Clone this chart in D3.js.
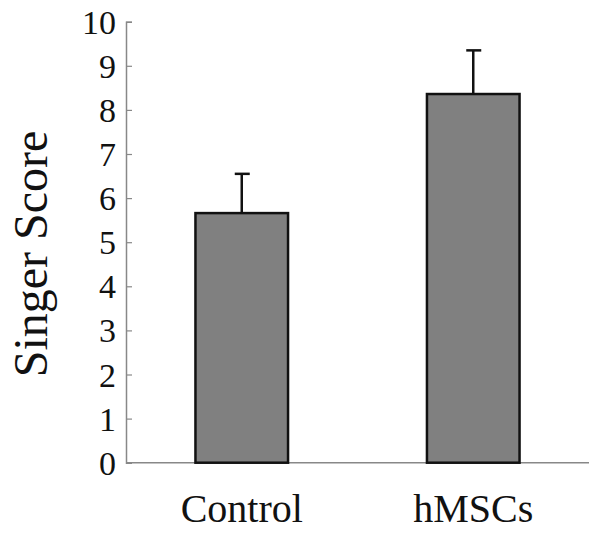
<!DOCTYPE html>
<html><head><meta charset="utf-8">
<script src="https://cdn.jsdelivr.net/npm/d3@7"></script>
<style>body{margin:0;background:#fff}</style>
</head><body>
<svg id="c" width="600" height="534"></svg>
<script>
const categories = ["Control", "hMSCs"];
const means = [5.66, 8.36];
const errors = [0.89, 0.99];
const yTicks = [0,1,2,3,4,5,6,7,8,9,10];

const svg = d3.select("#c");
const font = "'Liberation Serif', 'Times New Roman', serif";
const y = d3.scaleLinear().domain([0,10]).range([462.7, 21.7]);
const x = d3.scaleBand().domain(categories).range([126, 589]).paddingInner(0.6).paddingOuter(0.3);

// y axis
const yAxis = d3.axisLeft(y).tickValues(yTicks).tickSize(-6).tickPadding(10).tickFormat(d3.format("d"));
const gy = svg.append("g").attr("transform","translate(126,0)").call(yAxis);
gy.select(".domain").attr("stroke","#888").attr("stroke-width",1.5);
gy.selectAll(".tick line").attr("stroke","#888").attr("stroke-width",1.2);
gy.selectAll(".tick text").attr("font-family",font).attr("font-size",34).attr("fill","#111").attr("dy","0.34em");

// x axis line
svg.append("line").attr("x1",126).attr("x2",589).attr("y1",y(0)).attr("y2",y(0))
  .attr("stroke","#888").attr("stroke-width",1.5);

// error bars
const eg = svg.append("g");
categories.forEach((c,i)=>{
  const cx = x(c) + x.bandwidth()/2;
  eg.append("line").attr("x1",cx).attr("x2",cx).attr("y1",y(means[i])).attr("y2",y(means[i]+errors[i]))
    .attr("stroke","#111").attr("stroke-width",2.5);
  eg.append("line").attr("x1",cx-7).attr("x2",cx+8).attr("y1",y(means[i]+errors[i])).attr("y2",y(means[i]+errors[i]))
    .attr("stroke","#111").attr("stroke-width",2.5);
});

// bars
svg.append("g").selectAll("rect").data(categories).join("rect")
  .attr("x", d=>x(d)).attr("width", x.bandwidth())
  .attr("y", (d,i)=>y(means[i])).attr("height",(d,i)=>y(0)-y(means[i]))
  .attr("fill","#808080").attr("stroke","#111").attr("stroke-width",2.5);

// x labels
svg.append("g").selectAll("text").data(categories).join("text")
  .attr("x", d=>x(d)+x.bandwidth()/2).attr("y",522)
  .attr("text-anchor","middle").attr("font-family",font).attr("font-size",40).attr("fill","#111")
  .text(d=>d);

// y label
svg.append("text").attr("transform","translate(47,254) rotate(-90)")
  .attr("text-anchor","middle").attr("font-family",font).attr("font-size",48).attr("fill","#111")
  .text("Singer Score");
</script>
</body></html>
